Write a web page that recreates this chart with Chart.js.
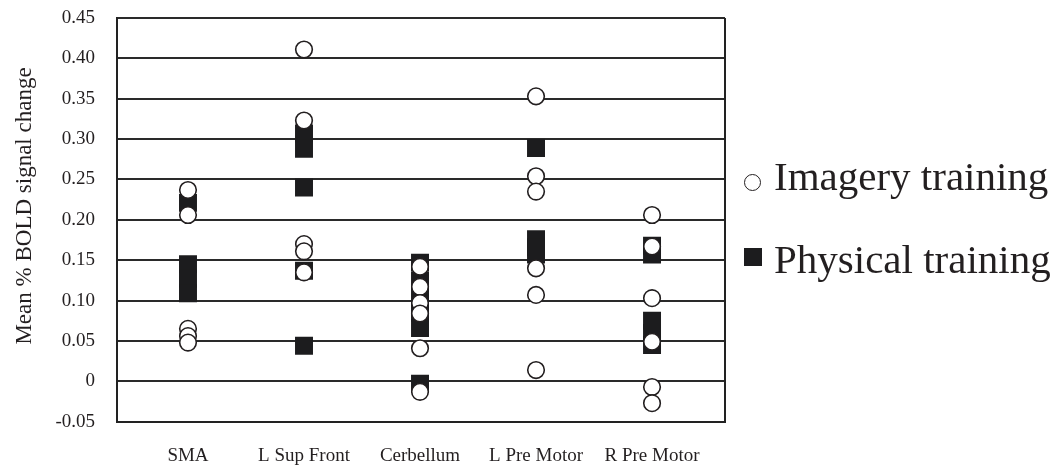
<!DOCTYPE html>
<html>
<head>
<meta charset="utf-8">
<script src="https://cdn.jsdelivr.net/npm/chart.js@4.4.1/dist/chart.umd.min.js"></script>
<style>
  body { margin: 0; background: #fff; }
  #wrap { position: relative; width: 1053px; height: 466px; }
  canvas { display: block; }
  .leg { position: absolute; left: 744px; font-family: 'Liberation Serif', 'Times New Roman', serif;
         font-size: 41px; line-height: 41px; color: #231f20; white-space: nowrap; }
  .leg i { display: inline-block; position: absolute; box-sizing: border-box; }
  .leg .c { width: 17px; height: 17px; border: 1.6px solid #231f20; border-radius: 50%; background: #fff; left: 0; }
  .leg .s { width: 18px; height: 18px; background: #1c1c1e; left: 0; }
  .leg span { position: absolute; left: 30px; }
</style>
</head>
<body>
<div id="wrap">
  <canvas id="myChart1" width="1053" height="466"></canvas>
  <div class="leg" style="top:156px"><i class="c" style="top:18px"></i><span>Imagery training</span></div>
  <div class="leg" style="top:239px"><i class="s" style="top:9px"></i><span>Physical training</span></div>
</div>
<script>
const categories = ["SMA", "L Sup Front", "Cerbellum", "L Pre Motor", "R Pre Motor"]

// one list per region
const imagery = [
    [0.237, 0.206, 0.065, 0.056, 0.048],
    [0.411, 0.323, 0.170, 0.161, 0.135],
    [0.142, 0.117, 0.097, 0.084, 0.041, -0.013],
    [0.353, 0.254, 0.235, 0.140, 0.107, 0.014],
    [0.206, 0.167, 0.103, 0.049, -0.007, -0.027]
]
const physical = [
    [0.221, 0.145, 0.127, 0.109],
    [0.307, 0.288, 0.240, 0.137, 0.044],
    [0.147, 0.125, 0.105, 0.085, 0.066, -0.003],
    [0.289, 0.176, 0.166, 0.157],
    [0.168, 0.157, 0.075, 0.060, 0.045]
]

const yTickValues = [-0.05, 0, 0.05, 0.10, 0.15, 0.20, 0.25, 0.30, 0.35, 0.40, 0.45]
const yTickLabels = ["-0.05", "0", "0.05", "0.10", "0.15", "0.20", "0.25", "0.30", "0.35", "0.40", "0.45"]
const yTitle = 'Mean % BOLD signal change'

const serif = "'Liberation Serif', 'Times New Roman', serif"
const ink = '#231f20'

function toPoints(groups) {
    const pts = []
    groups.forEach((vals, i) => vals.forEach(v => pts.push({ x: i + 1, y: v })))
    return pts
}

// right edge of the box, and the y title (sits a bit above the axis middle in the original)
const frame = {
    id: 'frame',
    beforeDatasetsDraw(chart) {
        const a = chart.chartArea, ctx = chart.ctx
        ctx.save()
        ctx.strokeStyle = '#222'
        ctx.lineWidth = 2
        ctx.beginPath()
        ctx.moveTo(a.right, a.top)
        ctx.lineTo(a.right, a.bottom)
        ctx.stroke()
        ctx.restore()
    },
    afterDraw(chart) {
        const ctx = chart.ctx
        ctx.save()
        ctx.translate(25, 206)
        ctx.rotate(-Math.PI / 2)
        ctx.font = "23px " + serif
        ctx.fillStyle = ink
        ctx.textAlign = 'center'
        ctx.textBaseline = 'middle'
        ctx.fillText(yTitle, 0, 0)
        ctx.restore()
    }
}

const data1 = {
    datasets: [{
        label: 'Imagery training',
        data: toPoints(imagery),
        pointStyle: 'circle',
        pointRadius: 8.3,
        borderWidth: 1.6,
        borderColor: ink,
        backgroundColor: '#fff'
    }, {
        label: 'Physical training',
        data: toPoints(physical),
        pointStyle: 'rect',
        pointRadius: 12.7,
        borderWidth: 0,
        borderColor: '#1c1c1e',
        backgroundColor: '#1c1c1e'
    }]
}

const config1 = {
    type: 'scatter',
    data: data1,
    plugins: [frame],
    options: {
        responsive: false,
        animation: false,
        events: [],
        layout: { autoPadding: false, padding: { left: 11, top: 18, right: 328, bottom: 0 } },
        scales: {
            x: {
                type: 'linear',
                min: 0.388,
                max: 5.629,
                afterBuildTicks: axis => { axis.ticks = categories.map((c, i) => ({ value: i + 1 })) },
                afterFit: axis => { axis.height = 44.3 },
                ticks: {
                    callback: (v) => categories[v - 1],
                    font: { family: serif, size: 19 },
                    color: ink,
                    padding: 3,
                    maxRotation: 0,
                    autoSkip: false
                },
                grid: { display: false, drawTicks: true, tickLength: 20 },
                border: { display: true, color: '#222', width: 2 }
            },
            y: {
                min: -0.05,
                max: 0.45,
                afterBuildTicks: axis => { axis.ticks = yTickValues.map(v => ({ value: v })) },
                afterFit: axis => { axis.width = 106 },
                ticks: {
                    callback: (v, i) => yTickLabels[i],
                    font: { family: serif, size: 19 },
                    color: ink,
                    padding: 3
                },
                grid: { color: '#2a2a2a', lineWidth: 2, drawTicks: true, tickLength: 19, tickColor: 'rgba(0,0,0,0)' },
                border: { display: true, color: '#222', width: 2 },
                title: { display: false }
            }
        },
        plugins: {
            legend: { display: false },
            tooltip: { enabled: false }
        }
    }
}

var myChart = new Chart(
    document.getElementById('myChart1'),
    config1
)
</script>
</body>
</html>
